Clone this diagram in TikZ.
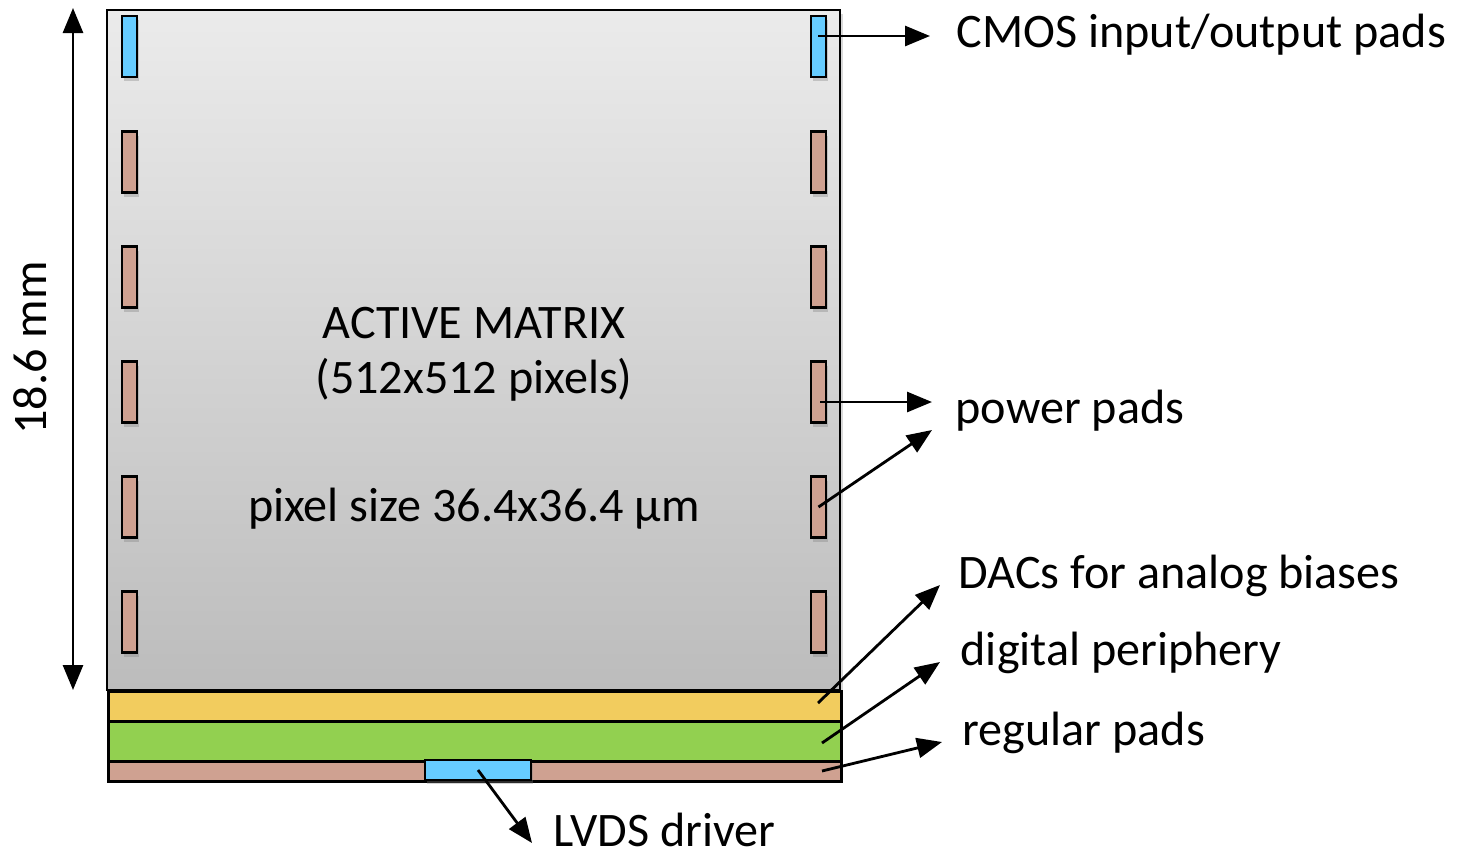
\documentclass[tikz,border=0pt]{standalone}
\usepackage{fontspec}
\setmainfont{Carlito}
\usepackage{tikz}
\usetikzlibrary{arrows.meta,shadows}
\definecolor{matrixtop}{HTML}{EBEBEB}
\definecolor{matrixbot}{HTML}{BCBCBC}
\definecolor{iofill}{HTML}{66CCFF}
\definecolor{padfill}{HTML}{CFA191}
\definecolor{dacfill}{HTML}{F2CC5E}
\definecolor{digfill}{HTML}{92D050}
\tikzset{
  chipline/.style={draw=black, line width=0.8pt},
  band/.style={chipline, minimum width=7.33cm, inner sep=0, anchor=north west},
  iopad/.style={chipline, fill=iofill, minimum width=0.15cm, minimum height=0.61cm, inner sep=0,
                drop shadow={opacity=0.35, shadow xshift=0.02cm, shadow yshift=-0.04cm}},
  pwrpad/.style={iopad, fill=padfill},
  lvdspad/.style={chipline, fill=iofill, minimum width=1.06cm, minimum height=0.20cm, inner sep=0,
                  drop shadow={opacity=0.35, shadow xshift=0.02cm, shadow yshift=-0.04cm}},
  inner/.style={font=\fontsize{13.7}{16}\selectfont, align=center},
  callout/.style={anchor=west, font=\fontsize{13.7}{16}\selectfont, inner sep=0},
  pointer/.style={-{Triangle[length=0.25cm,width=0.2cm]}, line width=0.8pt},
  dimarrow/.style={{Triangle[length=0.25cm,width=0.2cm]}-{Triangle[length=0.25cm,width=0.2cm]}, line width=0.8pt},
}

\begin{document}
\begin{tikzpicture}
  \useasboundingbox (0,0) rectangle (14.60,-8.54);

  % --- active matrix ---
  \shade[top color=matrixtop, bottom color=matrixbot,
         drop shadow={opacity=0.3, shadow xshift=0.03cm, shadow yshift=-0.04cm}]
        (1.07,-0.10) rectangle (8.40,-6.90);
  \draw[chipline] (1.07,-0.10) rectangle (8.40,-6.90);
  \node[inner] (title)  at (4.74,-3.23) {ACTIVE MATRIX};
  \node[inner] (pixels) at (4.74,-3.80) {(512x512 pixels)};
  \node[inner] (pxsize) at (4.74,-5.09) {pixel size 36.4x36.4 µm};

  % --- periphery bands ---
  \node[band, fill=dacfill, minimum height=0.30cm] (dac) at (1.07,-6.90) {};
  \node[band, fill=digfill, minimum height=0.40cm] (dig) at (1.07,-7.20) {};
  \node[band, fill=padfill, minimum height=0.20cm] (reg) at (1.07,-7.60) {};
  \node[lvdspad] (lvds) at (4.78,-7.70) {};

  % --- pads on the sides ---
  \node[iopad] (ioL) at (1.295,-0.465) {};
  \node[iopad] (ioR) at (8.185,-0.465) {};
  \foreach \i/\y in {1/-1.62, 2/-2.77, 3/-3.92, 4/-5.07, 5/-6.22} {
    \node[pwrpad] (pL\i) at (1.295,\y) {};
    \node[pwrpad] (pR\i) at (8.185,\y) {};
  }

  % --- size ---
  \coordinate (dimtop) at (0.73,-0.08);
  \coordinate (dimbot) at (0.73,-6.90);
  \draw[dimarrow] (dimbot) -- (dimtop);
  \node[rotate=90, font=\fontsize{13.7}{16}\selectfont] (height) at (0.30,-3.48) {18.6 mm};

  % --- labels ---
  \node[callout] (lbio)   at (9.56,-0.35) {CMOS input/output pads};
  \node[callout] (lbpwr)  at (9.55,-4.11) {power pads};
  \node[callout] (lbdac)  at (9.58,-5.76) {DACs for analog biases};
  \node[callout] (lbdig)  at (9.60,-6.53) {digital periphery};
  \node[callout] (lbreg)  at (9.62,-7.33) {regular pads};
  \node[callout] (lblvds) at (5.53,-8.30) {LVDS driver};

  % --- pointers ---
  \coordinate (iopt)  at (8.18,-0.36);
  \coordinate (pwrpt) at (8.20,-4.02);
  \coordinate (dacpt) at (8.18,-7.03);
  \coordinate (digpt) at (8.22,-7.43);
  \coordinate (regpt) at (8.22,-7.71);
  \draw[pointer] (iopt) -- (9.30,-0.36);
  \draw[pointer] (pwrpt) -- (9.32,-4.02);
  \draw[pointer] (pR4.center) -- (9.32,-4.30);
  \draw[pointer] (dacpt) -- (9.40,-5.85);
  \draw[pointer] (digpt) -- (9.40,-6.62);
  \draw[pointer] (regpt) -- (9.42,-7.42);
  \draw[pointer] (lvds.center) -- (5.32,-8.43);
\end{tikzpicture}
\end{document}
